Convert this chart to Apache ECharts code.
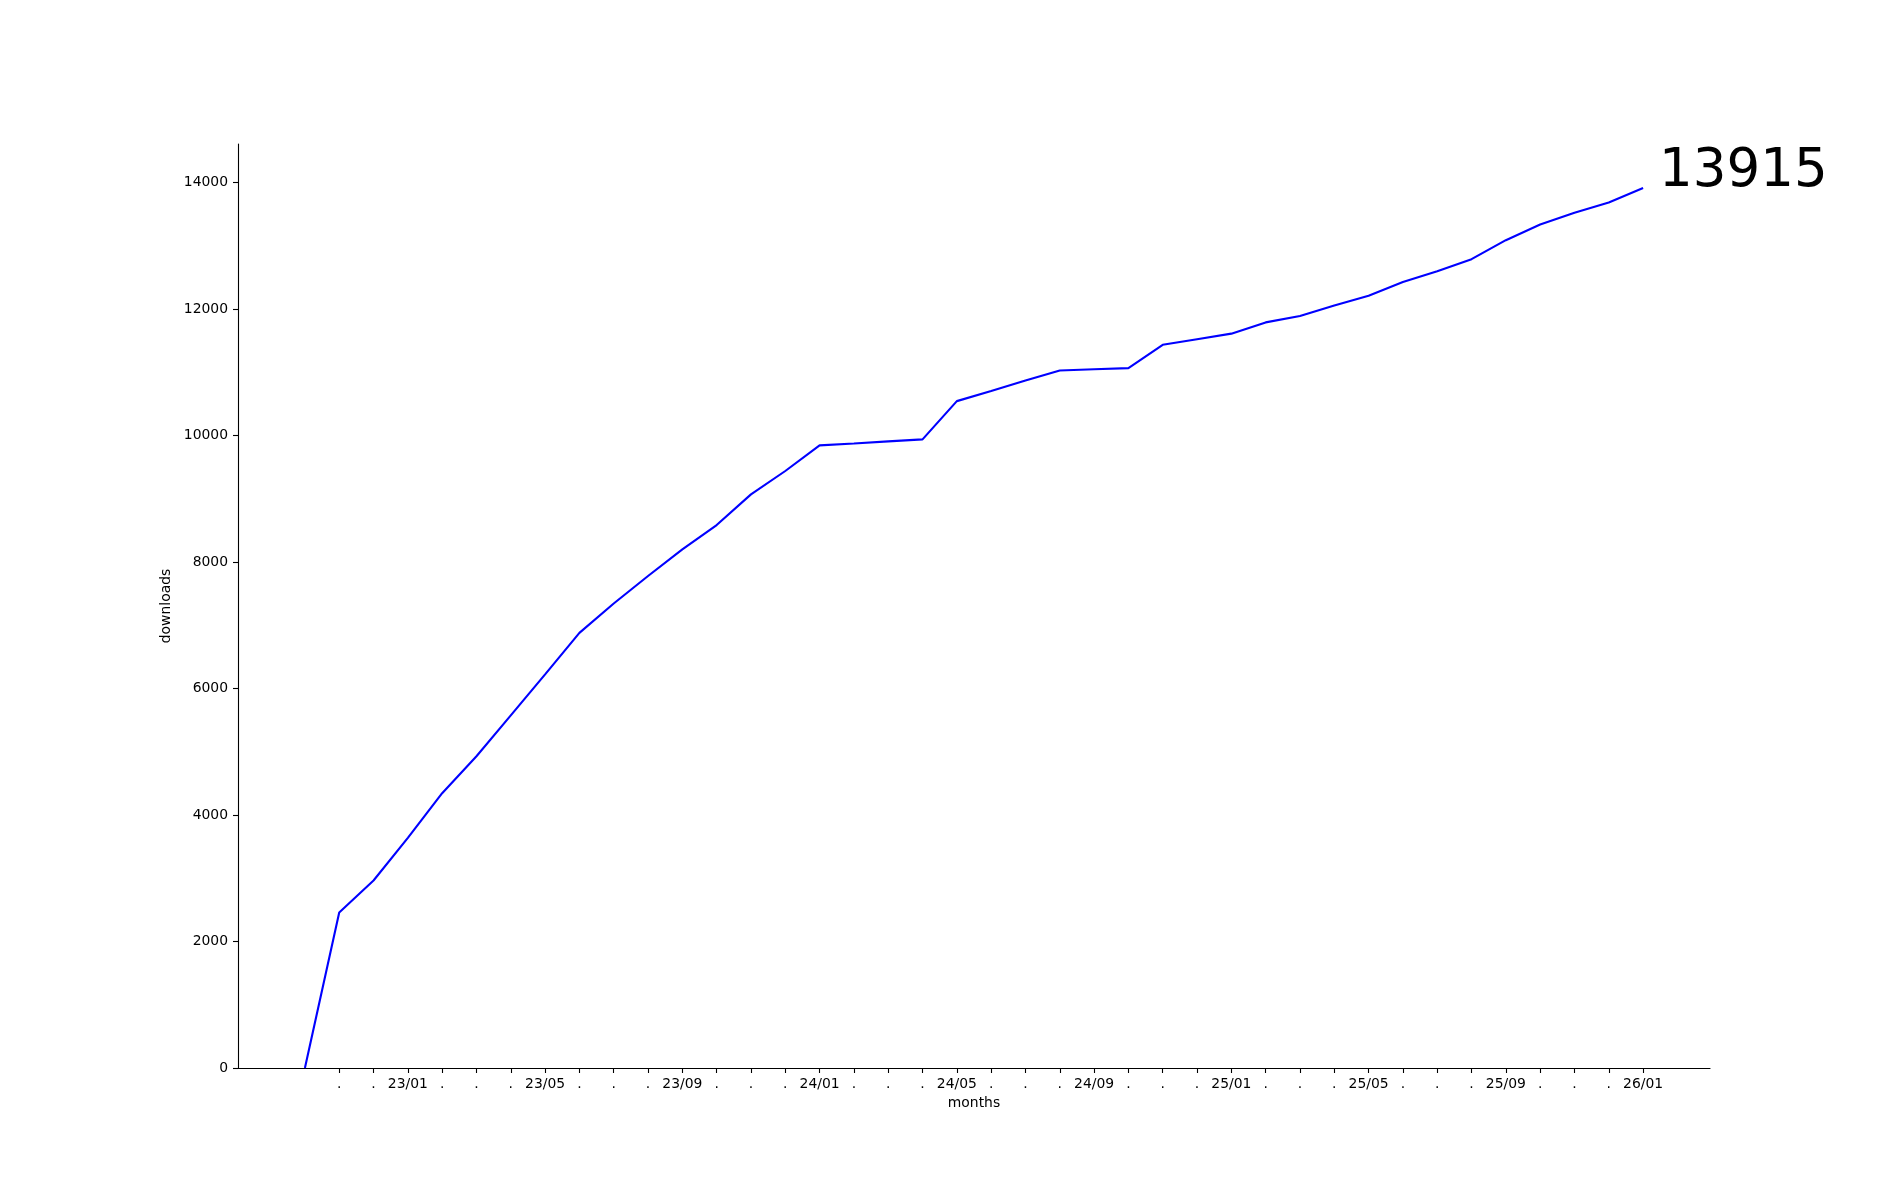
<!DOCTYPE html>
<html>
<head>
<meta charset="utf-8">
<script src="https://cdn.jsdelivr.net/npm/echarts@6/dist/echarts.min.js"></script>
<style>
html,body{margin:0;padding:0;background:#fff;}
#chart{width:1900px;height:1200px;}
</style>
</head>
<body>
<div id="chart"></div>
<script>
// months 22/10 .. 26/01 (index 0..39)
const months = ['22/10','22/11','22/12','23/01','23/02','23/03','23/04','23/05','23/06','23/07','23/08','23/09','23/10','23/11','23/12',
  '24/01','24/02','24/03','24/04','24/05','24/06','24/07','24/08','24/09','24/10','24/11','24/12',
  '25/01','25/02','25/03','25/04','25/05','25/06','25/07','25/08','25/09','25/10','25/11','25/12','26/01'];
const downloads = [0, 2460, 2965, 3640, 4345, 4930, 5575, 6225, 6880, 7345, 7780, 8200, 8585, 9070, 9440, 9845,
  9875, 9908, 9940, 10545, 10705, 10870, 11030, 11048, 11066, 11436, 11524, 11612, 11790, 11892, 12058, 12210,
  12429, 12598, 12790, 13090, 13338, 13525, 13685, 13915];
// tick labels for ticks at index 1..39
const tickIdx = [];
for (let i = 1; i < months.length; i++) tickIdx.push(i);
const tickLabels = ['.','.','23/01','.','.','.','23/05','.','.','.','23/09','.','.','.','24/01','.','.','.','24/05','.','.','.','24/09','.','.','.','25/01','.','.','.','25/05','.','.','.','25/09','.','.','.','26/01'];
const yTicks = [0,2000,4000,6000,8000,10000,12000,14000];
const finalLabel = '13915';

const font = 'DejaVu Sans';
const chart = echarts.init(document.getElementById('chart'), null, {renderer:'canvas'});
const n = months.length - 1;
const lastVal = downloads[downloads.length-1];
const option = {
  animation: false,
  backgroundColor: '#ffffff',
  grid: {left: 238, right: 190, top: 144, bottom: 132, containLabel: false},
  xAxis: {
    type: 'value',
    min: -0.05 * n,
    max: n + 0.05 * n,
    name: 'months',
    nameLocation: 'middle',
    nameGap: 27,
    nameTextStyle: {fontFamily: font, fontSize: 13.9, color: '#000'},
    axisLine: {show: true, onZero: false, lineStyle: {color: '#000', width: 1.1}},
    axisTick: {show: true, length: 5, lineStyle: {color: '#000', width: 1.1}, customValues: tickIdx},
    axisLabel: {fontFamily: font, fontSize: 13.9, color: '#000', margin: 9, customValues: tickIdx,
      formatter: v => tickLabels[Math.round(v) - 1]},
    splitLine: {show: false}
  },
  yAxis: {
    type: 'value',
    min: 0,
    max: lastVal * 1.05,
    name: 'downloads',
    nameLocation: 'middle',
    nameGap: 55,
    nameRotate: 90,
    nameTextStyle: {fontFamily: font, fontSize: 13.9, color: '#000'},
    axisLine: {show: true, onZero: false, lineStyle: {color: '#000', width: 1.1}},
    axisTick: {show: true, length: 5, lineStyle: {color: '#000', width: 1.1}, customValues: yTicks},
    axisLabel: {fontFamily: font, fontSize: 13.9, color: '#000', margin: 10, customValues: yTicks,
      formatter: v => String(Math.round(v))},
    splitLine: {show: false}
  },
  series: [{
    type: 'line',
    data: downloads.map((v, i) => [i, v]),
    showSymbol: false,
    lineStyle: {color: '#0000ff', width: 2.1},
    itemStyle: {color: '#0000ff'},
    clip: false
  }]
};
chart.setOption(option);
const p = chart.convertToPixel({gridIndex: 0}, [n, lastVal]);
chart.setOption({
  graphic: [{
    type: 'text',
    x: p[0] + 16,
    y: p[1] - 16,
    style: {text: finalLabel, fontFamily: font, fontSize: 53, fill: '#000', align: 'left', verticalAlign: 'middle'}
  }]
});
</script>
</body>
</html>
